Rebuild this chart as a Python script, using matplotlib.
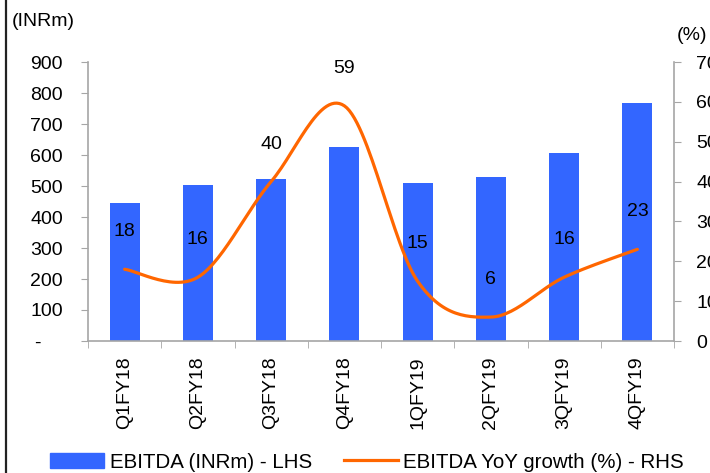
import numpy as np
import matplotlib
matplotlib.use("Agg")
import matplotlib.pyplot as plt
from matplotlib.lines import Line2D

plt.rcParams['font.family'] = ['Liberation Sans', 'DejaVu Sans']

quarters = ['Q1FY18', 'Q2FY18', 'Q3FY18', 'Q4FY18', '1QFY19', '2QFY19', '3QFY19', '4QFY19']
ebitda = [445, 503, 523, 626, 510, 529, 606, 768]
growth = [18, 16, 40, 59, 15, 6, 16, 23]
left_ticks = [0, 100, 200, 300, 400, 500, 600, 700, 800, 900]
left_labels = ['-    ', '100', '200', '300', '400', '500', '600', '700', '800', '900']
right_ticks = [0, 10, 20, 30, 40, 50, 60, 70]

bar_color = '#3366FF'
line_color = '#FF6600'
grey = '#A6A6A6'


def smooth(xs, ys, n=30):
    # excel-like smoothed line (catmull-rom as cubic bezier)
    pts = np.column_stack([xs, ys]).astype(float)
    p = np.vstack([pts[0], pts, pts[-1]])
    out = []
    t = np.linspace(0, 1, n)[:, None]
    for i in range(1, len(p) - 2):
        p0, p1, p2, p3 = p[i - 1], p[i], p[i + 1], p[i + 2]
        c1 = p1 + (p2 - p0) / 6
        c2 = p2 - (p3 - p1) / 6
        seg = ((1 - t) ** 3) * p1 + 3 * ((1 - t) ** 2) * t * c1 + 3 * (1 - t) * t ** 2 * c2 + t ** 3 * p2
        out.append(seg if i == 1 else seg[1:])
    out = np.vstack(out)
    return out[:, 0], out[:, 1]


fig = plt.figure(figsize=(7.10, 4.73), dpi=100)
ax = fig.add_axes([88 / 710, 1 - 341 / 473, (674 - 88) / 710, (341 - 62) / 473])
x = np.arange(len(quarters))

ax.bar(x, ebitda, width=0.41, color=bar_color, zorder=2)
ax.set_xlim(-0.5, 7.5)
ax.set_ylim(0, 900)
ax.set_yticks(left_ticks)
ax.set_yticklabels(left_labels)
ax.set_xticks(x)
ax.set_xticklabels(quarters, rotation=90)
ax.set_xticks(np.arange(-0.5, 8, 1), minor=True)
ax.tick_params(axis='x', which='major', length=0, pad=11, labelsize=14)
ax.tick_params(axis='x', which='minor', length=5, color=grey, direction='out')
ax.tick_params(axis='y', length=5, color=grey, pad=13, labelsize=14)

for s in ['top', 'right']:
    ax.spines[s].set_visible(False)
for s in ['left', 'bottom']:
    ax.spines[s].set_color(grey)
    ax.spines[s].set_linewidth(1.2)

ax2 = ax.twinx()
ax2.set_ylim(0, 70)
ax2.set_yticks(right_ticks)
ax2.tick_params(axis='y', length=5, color=grey, pad=11, labelsize=14)
for s in ['top', 'left', 'bottom']:
    ax2.spines[s].set_visible(False)
ax2.spines['right'].set_color(grey)
ax2.spines['right'].set_linewidth(1.2)

sx, sy = smooth(x, growth)
ax2.plot(sx, sy, color=line_color, lw=2.3, solid_capstyle='round', zorder=3)
for xi, g in zip(x, growth):
    ax2.annotate(str(g), (xi, g), xytext=(0, 27), textcoords='offset points',
                 ha='center', va='center', fontsize=14, color='black')

fig.text(12 / 710, 1 - 22 / 473, '(INRm)', fontsize=14, va='center', ha='left')
fig.text(677 / 710, 1 - 35 / 473, '(%)', fontsize=14, va='center', ha='left')

handles = [plt.Rectangle((0, 0), 1, 1, color=bar_color),
           Line2D([0], [0], color=line_color, lw=2.3)]
fig.legend(handles, ['EBITDA (INRm) - LHS', 'EBITDA YoY growth (%) - RHS'],
           loc='center left', bbox_to_anchor=(50 / 710, 1 - 462 / 473), ncol=2,
           frameon=False, fontsize=14.8, handlelength=2.65, handleheight=0.72,
           handletextpad=0.25, columnspacing=1.55, borderpad=0, borderaxespad=0)

fig.add_artist(Line2D([6 / 710, 6 / 710], [0, 1], color='#222222', lw=1.6))

fig.savefig('out.png', dpi=100)
